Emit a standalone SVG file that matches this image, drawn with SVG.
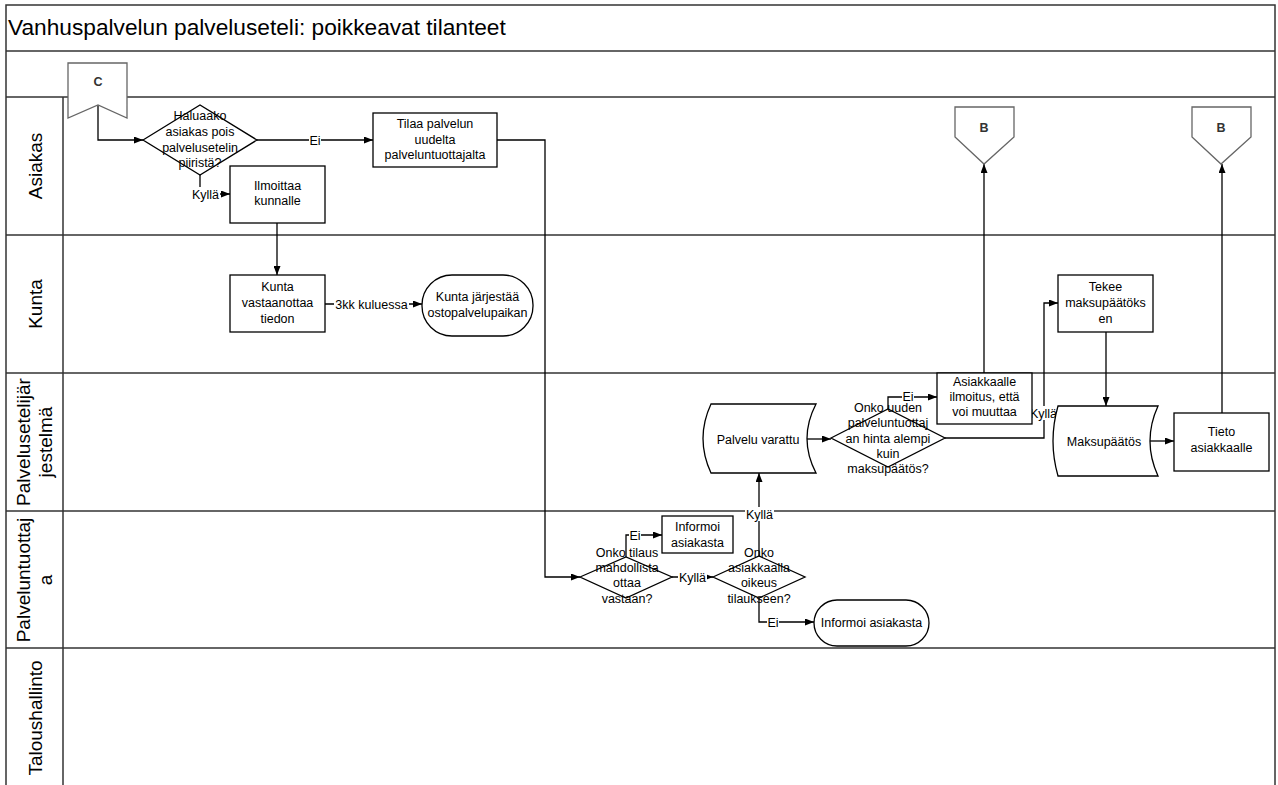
<svg xmlns="http://www.w3.org/2000/svg" width="1278" height="785" viewBox="0 0 1278 785">
<defs>
<marker id="arrow" markerWidth="9" markerHeight="7" refX="9" refY="3.5" orient="auto" markerUnits="userSpaceOnUse"><path d="M0,0 L9,3.5 L0,7 z" fill="#000"/></marker>
<style>
.frame{fill:none;stroke:#333;stroke-width:1.5}
.shape{fill:#fff;stroke:#000;stroke-width:1.3}
.ref{fill:#fff;stroke:#666;stroke-width:1.3}
.conn{fill:none;stroke:#000;stroke-width:1.3;marker-end:url(#arrow)}
.t{font-family:"Liberation Sans",Arial,sans-serif;font-size:12.5px;fill:#000;text-anchor:middle}
.rt{font-family:"Liberation Sans",Arial,sans-serif;font-size:12.5px;font-weight:bold;fill:#333;text-anchor:middle}
.lane{font-family:"Liberation Sans",Arial,sans-serif;font-size:19px;fill:#000;text-anchor:middle}
.title{font-family:"Liberation Sans",Arial,sans-serif;font-size:22.7px;fill:#000}
.bg{fill:#fff}
</style>
</defs>
<rect x="0" y="0" width="1278" height="785" fill="#fff"/>

<!-- pool frame and swimlanes -->
<g id="pool">
<rect class="frame" x="6" y="5" width="1269" height="800"/>
<line class="frame" x1="6" y1="51" x2="1275" y2="51"/>
<line class="frame" x1="6" y1="97" x2="1275" y2="97"/>
<line class="frame" x1="6" y1="235" x2="1275" y2="235"/>
<line class="frame" x1="6" y1="373" x2="1275" y2="373"/>
<line class="frame" x1="6" y1="511" x2="1275" y2="511"/>
<line class="frame" x1="6" y1="648" x2="1275" y2="648"/>
<line class="frame" x1="63" y1="97" x2="63" y2="800"/>
<text class="title" x="8" y="35">Vanhuspalvelun palveluseteli: poikkeavat tilanteet</text>
<text class="lane" transform="translate(35,166) rotate(-90)" dy="0.35em">Asiakas</text>
<text class="lane" transform="translate(35,304) rotate(-90)" dy="0.35em">Kunta</text>
<text class="lane" transform="translate(23,442) rotate(-90)" dy="0.35em">Palvelusetelijär</text>
<text class="lane" transform="translate(45,442) rotate(-90)" dy="0.35em">jestelmä</text>
<text class="lane" transform="translate(23,580) rotate(-90)" dy="0.35em">Palveluntuottaj</text>
<text class="lane" transform="translate(45,580) rotate(-90)" dy="0.35em">a</text>
<text class="lane" transform="translate(35,718) rotate(-90)" dy="0.35em">Taloushallinto</text>
</g>

<!-- connectors -->
<g id="connectors">
<path class="conn" d="M98,105 V140 H143"/>
<path class="conn" d="M257,140 H373"/>
<path class="conn" d="M200,175 V194 H230"/>
<path class="conn" d="M277,223 V275"/>
<path class="conn" d="M325,304 H422"/>
<path class="conn" d="M497,140 H545 V577 H580"/>
<path class="conn" d="M626,557 V535 H662"/>
<path class="conn" d="M672,577 H713"/>
<path class="conn" d="M759,557 V473"/>
<path class="conn" d="M759,598 V622 H814"/>
<path class="conn" d="M807,439 H831"/>
<path class="conn" d="M888,409 V397 H937"/>
<path class="conn" d="M945,438 H1044 V303 H1058"/>
<path class="conn" d="M984,373 V164"/>
<path class="conn" d="M1106,332 V406"/>
<path class="conn" d="M1150,441 H1174"/>
<path class="conn" d="M1222,413 V164"/>

<rect class="bg" x="309" y="133" width="12" height="14"/>
<text class="t" x="315" y="144.5">Ei</text>
<rect class="bg" x="191" y="187" width="29" height="14"/>
<text class="t" x="205.5" y="198.5">Kyllä</text>
<rect class="bg" x="334" y="297" width="75" height="14"/>
<text class="t" x="371.5" y="308.5">3kk kuluessa</text>
<rect class="bg" x="629" y="528" width="12" height="14"/>
<text class="t" x="635" y="539.5">Ei</text>
<rect class="bg" x="678" y="570" width="29" height="14"/>
<text class="t" x="692.5" y="581.5">Kyllä</text>
<rect class="bg" x="745" y="507" width="29" height="14"/>
<text class="t" x="759.5" y="518.5">Kyllä</text>
<rect class="bg" x="767" y="615" width="12" height="14"/>
<text class="t" x="773" y="626.5">Ei</text>
<rect class="bg" x="902" y="391" width="12" height="12"/>
<text class="t" x="908" y="401">Ei</text>
<rect class="bg" x="1029" y="406" width="29" height="14"/>
<text class="t" x="1043.5" y="417.5">Kyllä</text>
</g>

<g id="ref-c">
<polygon class="ref" points="68,63 127,63 127,118 98,105 68,118"/>
<text class="rt" x="98" y="86">C</text>
</g>

<g id="dec-haluaako">
<polygon class="shape" points="143,140 200,105 257,140 200,175"/>
<text class="t" x="200" y="120">Haluaako</text>
<text class="t" x="200" y="136">asiakas pois</text>
<text class="t" x="200" y="152">palvelusetelin</text>
<text class="t" x="200" y="167">piiristä?</text>
</g>

<g id="tilaa-palvelun">
<rect class="shape" x="373" y="113" width="124" height="54"/>
<text class="t" x="435" y="128">Tilaa palvelun</text>
<text class="t" x="435" y="144">uudelta</text>
<text class="t" x="435" y="159">palveluntuottajalta</text>
</g>

<g id="ilmoittaa-kunnalle">
<rect class="shape" x="230" y="166" width="95" height="57"/>
<text class="t" x="277.5" y="190">Ilmoittaa</text>
<text class="t" x="277.5" y="205">kunnalle</text>
</g>

<g id="kunta-vastaanottaa">
<rect class="shape" x="230" y="275" width="95" height="57"/>
<text class="t" x="277.5" y="291">Kunta</text>
<text class="t" x="277.5" y="307">vastaanottaa</text>
<text class="t" x="277.5" y="323">tiedon</text>
</g>

<g id="kunta-jarjestaa">
<rect class="shape" x="422" y="275" width="111" height="61" rx="30" ry="30"/>
<text class="t" x="477.5" y="301">Kunta järjestää</text>
<text class="t" x="477.5" y="317">ostopalvelupaikan</text>
</g>

<g id="ref-b1">
<polygon class="ref" points="955,107 1014,107 1014,137 984,164 955,137"/>
<text class="rt" x="984" y="132">B</text>
</g>

<g id="ref-b2">
<polygon class="ref" points="1192,107 1251,107 1251,137 1221,164 1192,137"/>
<text class="rt" x="1221" y="132">B</text>
</g>

<g id="tekee-maksupaatoksen">
<rect class="shape" x="1058" y="275" width="95" height="57"/>
<text class="t" x="1105.5" y="291">Tekee</text>
<text class="t" x="1105.5" y="307">maksupäätöks</text>
<text class="t" x="1105.5" y="323">en</text>
</g>

<g id="asiakkaalle-ilmoitus">
<rect class="shape" x="937" y="373" width="95" height="51"/>
<text class="t" x="984.5" y="386">Asiakkaalle</text>
<text class="t" x="984.5" y="401">ilmoitus, että</text>
<text class="t" x="984.5" y="416">voi muuttaa</text>
</g>

<g id="palvelu-varattu">
<path class="shape" d="M711,404 L816,404 Q798,438.5 816,473 L711,473 Q695,438.5 711,404 Z"/>
<text class="t" x="758" y="443.5">Palvelu varattu</text>
</g>

<g id="dec-hinta">
<polygon class="shape" points="831,438 888,409 945,438 888,467"/>
<text class="t" x="888" y="412">Onko uuden</text>
<text class="t" x="888" y="427">palveluntuottaj</text>
<text class="t" x="888" y="443">an hinta alempi</text>
<text class="t" x="888" y="458">kuin</text>
<text class="t" x="888" y="473">maksupäätös?</text>
</g>

<g id="maksupaatos">
<path class="shape" d="M1058,406 L1158,406 Q1142,441 1158,476 L1058,476 Q1048,441 1058,406 Z"/>
<text class="t" x="1104" y="445.5">Maksupäätös</text>
</g>

<g id="tieto-asiakkaalle">
<rect class="shape" x="1174" y="413" width="95" height="58"/>
<text class="t" x="1221.5" y="436">Tieto</text>
<text class="t" x="1221.5" y="452">asiakkaalle</text>
</g>

<g id="dec-tilaus">
<polygon class="shape" points="580,577 626,557 672,577 626,598"/>
<text class="t" x="627" y="557">Onko tilaus</text>
<text class="t" x="627" y="572">mahdollista</text>
<text class="t" x="627" y="587">ottaa</text>
<text class="t" x="627" y="603">vastaan?</text>
</g>

<g id="informoi-box">
<rect class="shape" x="662" y="516" width="71" height="37"/>
<text class="t" x="697.5" y="531">Informoi</text>
<text class="t" x="697.5" y="547">asiakasta</text>
</g>

<g id="dec-oikeus">
<polygon class="shape" points="713,577 759,556 805,577 759,598"/>
<text class="t" x="759" y="557">Onko</text>
<text class="t" x="759" y="572">asiakkaalla</text>
<text class="t" x="759" y="587">oikeus</text>
<text class="t" x="759" y="603">tilaukseen?</text>
</g>

<g id="informoi-terminator">
<rect class="shape" x="814" y="600" width="115" height="46" rx="23" ry="23"/>
<text class="t" x="871.5" y="626.5">Informoi asiakasta</text>
</g>
</svg>
